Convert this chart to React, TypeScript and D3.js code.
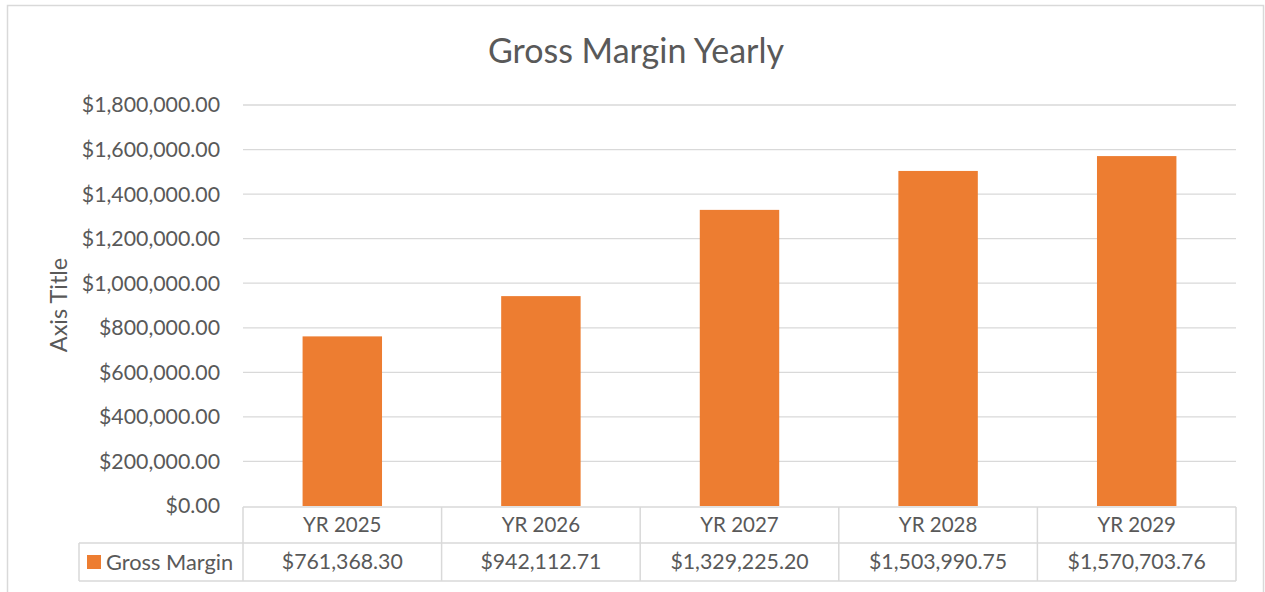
import React from "react";
import * as d3 from "d3";

const categories = ["YR 2025", "YR 2026", "YR 2027", "YR 2028", "YR 2029"];
const grossMargin = [761368.3, 942112.71, 1329225.2, 1503990.75, 1570703.76];
const yTicks = [0, 200000, 400000, 600000, 800000, 1000000, 1200000, 1400000, 1600000, 1800000];
const seriesName = "Gross Margin";
const chartTitle = "Gross Margin Yearly";
const axisTitle = "Axis Title";

const W = 1265;
const H = 592;
const FONT = "Lato, 'Open Sans', sans-serif";
const TXT = "#595959";
const GRID = "#d9d9d9";
const BAR = "#ED7D31";

export default function App() {
  const left = 243;
  const right = 1236;
  const top = 105;
  const bottom = 506;
  const x = d3.scaleBand<string>().domain(categories).range([left, right]).paddingInner(0.6).paddingOuter(0.3);
  const xc = d3.scaleBand<string>().domain(categories).range([left, right]);
  const y = d3.scaleLinear().domain([0, 1800000]).range([bottom, top]);
  const money = d3.format("$,.2f");
  const row1Top = 507;
  const row1Bot = 543;
  const row2Bot = 581;
  const legLeft = 79;

  return (
    <svg width={W} height={H} style={{ position: "absolute", left: 0, top: 0 }} fontFamily={FONT}>
      <rect x={0} y={0} width={W} height={H} fill="#fff" />
      <rect x={7.5} y={5.5} width={1256} height={620} fill="#fff" stroke={GRID} strokeWidth={1.5} />
      <text x={636} y={63} textAnchor="middle" fontSize={34} fill={TXT}>{chartTitle}</text>
      {yTicks.map((t) => (
        <g key={t}>
          {t > 0 && <line x1={left} x2={right} y1={y(t)} y2={y(t)} stroke={GRID} strokeWidth={1.3} />}
          <text x={220} y={y(t)} dy="0.35em" textAnchor="end" fontSize={21.3} fill={TXT}>{money(t)}</text>
        </g>
      ))}
      <text transform={`translate(59,${305}) rotate(-90)`} textAnchor="middle" dy="0.35em" fontSize={23.5} fill={TXT}>{axisTitle}</text>
      {categories.map((c, i) => (
        <rect key={c} x={x(c)} y={y(grossMargin[i])} width={x.bandwidth()} height={bottom - y(grossMargin[i])} fill={BAR} />
      ))}
      {/* data table */}
      <g stroke={GRID} strokeWidth={1.5} fill="none">
        <line x1={left} x2={right} y1={row1Top} y2={row1Top} />
        <line x1={legLeft} x2={right} y1={row1Bot} y2={row1Bot} />
        <line x1={legLeft} x2={right} y1={row2Bot} y2={row2Bot} />
        <line x1={legLeft} x2={legLeft} y1={row1Bot} y2={row2Bot} />
        {categories.map((c) => (
          <line key={c} x1={xc(c)} x2={xc(c)} y1={row1Top} y2={row2Bot} />
        ))}
        <line x1={right} x2={right} y1={row1Top} y2={row2Bot} />
      </g>
      {categories.map((c, i) => (
        <g key={c}>
          <text x={(xc(c) as number) + xc.bandwidth() / 2} y={(row1Top + row1Bot) / 2} dy="0.35em" textAnchor="middle" fontSize={20.5} fill={TXT}>{c}</text>
          <text x={(xc(c) as number) + xc.bandwidth() / 2} y={(row1Bot + row2Bot) / 2} dy="0.35em" textAnchor="middle" fontSize={21.3} fill={TXT}>{money(grossMargin[i])}</text>
        </g>
      ))}
      <rect x={87} y={555} width={14} height={14} fill={BAR} />
      <text x={106} y={(row1Bot + row2Bot) / 2} dy="0.35em" fontSize={21.8} fill={TXT}>{seriesName}</text>
    </svg>
  );
}
